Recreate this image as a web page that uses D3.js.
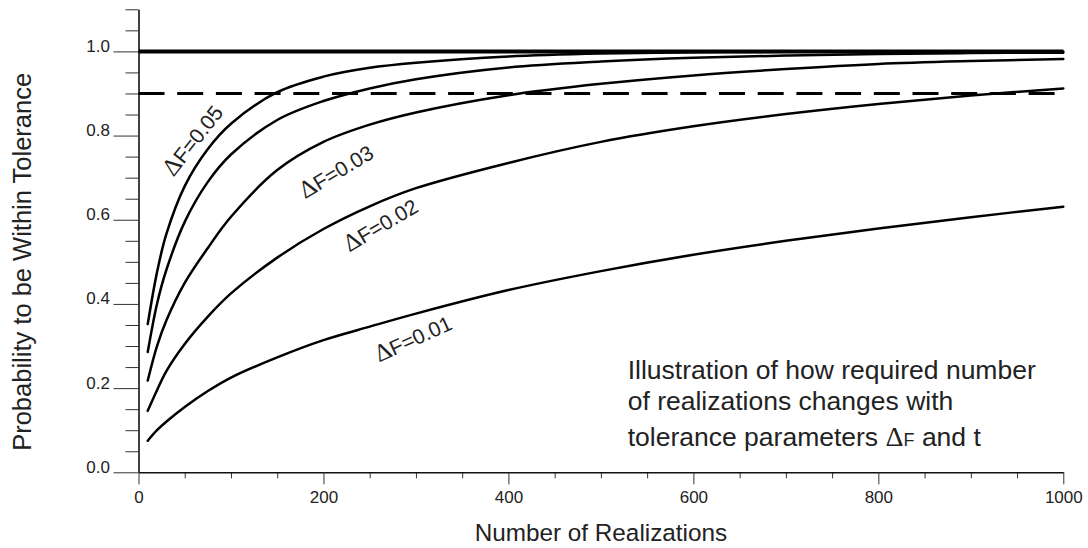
<!DOCTYPE html>
<html>
<head>
<meta charset="utf-8">
<script src="https://cdn.jsdelivr.net/npm/d3@7"></script>
<style>
  body { margin: 0; background: #fff; }
  svg { display: block; font-family: "Liberation Sans", Arial, sans-serif; }
</style>
</head>
<body>
<div id="chart"></div>
<script>
// number of realizations where the curves were read
const realizations = [10, 20, 30, 50, 75, 100, 150, 200, 250, 300, 400, 500, 600, 700, 800, 900, 1000];

// probability to be within tolerance, one array per ΔF
const probDF05 = [0.352, 0.475, 0.565, 0.68, 0.768, 0.828, 0.903, 0.94, 0.961, 0.973, 0.988, 0.995, 0.998, 0.999, 1.0, 1.0, 1.0];
const probDF04 = [0.286, 0.40, 0.48, 0.595, 0.69, 0.755, 0.837, 0.882, 0.912, 0.934, 0.962, 0.976, 0.985, 0.99, 0.994, 0.996, 0.997];
const probDF03 = [0.218, 0.30, 0.36, 0.45, 0.533, 0.607, 0.718, 0.785, 0.826, 0.855, 0.896, 0.923, 0.943, 0.958, 0.97, 0.977, 0.982];
const probDF02 = [0.146, 0.195, 0.24, 0.305, 0.37, 0.425, 0.51, 0.578, 0.632, 0.675, 0.735, 0.785, 0.822, 0.851, 0.875, 0.895, 0.912];
const probDF01 = [0.075, 0.10, 0.12, 0.155, 0.193, 0.225, 0.273, 0.314, 0.346, 0.377, 0.433, 0.478, 0.517, 0.55, 0.579, 0.606, 0.631];

const curveNames = ["0.05", "0.04", "0.03", "0.02", "0.01"];
const labelledCurves = ["0.05", "0.03", "0.02", "0.01"];

// reference levels
const targetLevel = 1.0;
const toleranceLevel = 0.9;

const xMajorTicks = [0, 200, 400, 600, 800, 1000];
const yMajorTicks = [0, 0.2, 0.4, 0.6, 0.8, 1.0];

const noteLines = ["Illustration of how required number", "of realizations changes with"];

const width = 1088;
const height = 548;
const marginLeft = 138.5;
const marginRight = 24.7;
const marginTop = 9.3;
const marginBottom = 75.7;

const svg = d3
  .select("#chart")
  .append("svg")
  .attr("width", width)
  .attr("height", height);

const x = d3
  .scaleLinear()
  .domain([0, 1000])
  .range([marginLeft, width - marginRight]);

const y = d3
  .scaleLinear()
  .domain([0, 1.1])
  .range([height - marginBottom, marginTop]);

const xMinorTicks = d3.range(0, 1001, 50).filter((d) => d % 200 !== 0);
const yMinorTicks = d3
  .range(0, 23)
  .map((i) => +(i * 0.05).toFixed(2))
  .filter((d) => Math.round(d * 100) % 20 !== 0);

// minor ticks
svg
  .append("g")
  .attr("transform", `translate(${marginLeft},0)`)
  .call(d3.axisLeft(y).tickValues(yMinorTicks).tickSize(13).tickFormat(""))
  .call((g) => g.select(".domain").remove());

svg
  .append("g")
  .attr("transform", `translate(0,${height - marginBottom})`)
  .call(d3.axisBottom(x).tickValues(xMinorTicks).tickSize(6).tickFormat(""))
  .call((g) => g.select(".domain").remove());

// major ticks and axis lines
const yAxis = svg
  .append("g")
  .attr("transform", `translate(${marginLeft},0)`)
  .call(
    d3
      .axisLeft(y)
      .tickValues(yMajorTicks)
      .tickSize(25)
      .tickSizeOuter(0)
      .tickPadding(3.5)
      .tickFormat(d3.format(".1f"))
  );

yAxis
  .selectAll("text")
  .attr("dy", 0)
  .attr("font-size", 17)
  .attr("font-family", "Liberation Sans, Arial, sans-serif")
  .attr("fill", "#222");

const xAxis = svg
  .append("g")
  .attr("transform", `translate(0,${height - marginBottom})`)
  .call(
    d3
      .axisBottom(x)
      .tickValues(xMajorTicks)
      .tickSize(12)
      .tickSizeOuter(0)
      .tickFormat(d3.format("d"))
  );

xAxis
  .selectAll("text")
  .attr("dy", 0)
  .attr("y", 31)
  .attr("font-size", 17)
  .attr("font-family", "Liberation Sans, Arial, sans-serif")
  .attr("fill", "#222");

svg.selectAll(".tick line").attr("stroke", "#333").attr("stroke-width", 1);
svg.selectAll(".domain").attr("stroke", "#111").attr("stroke-width", 1.6);

// axis titles
svg
  .append("text")
  .text("Number of Realizations")
  .attr("x", (x(0) + x(1000)) / 2)
  .attr("y", 541)
  .attr("text-anchor", "middle")
  .attr("font-size", 24.3)
  .attr("fill", "#222");

svg
  .append("text")
  .text("Probability to be Within Tolerance")
  .attr("transform", `translate(31, ${(y(0) + y(1)) / 2}) rotate(-90)`)
  .attr("text-anchor", "middle")
  .attr("font-size", 25.5)
  .attr("fill", "#222");

// reference lines
svg
  .append("line")
  .attr("x1", x(0))
  .attr("x2", x(1000))
  .attr("y1", y(targetLevel))
  .attr("y2", y(targetLevel))
  .attr("stroke", "#000")
  .attr("stroke-width", 4);

svg
  .append("line")
  .attr("x1", x(0))
  .attr("x2", x(1000))
  .attr("y1", y(toleranceLevel))
  .attr("y2", y(toleranceLevel))
  .attr("stroke", "#000")
  .attr("stroke-width", 3)
  .attr("stroke-dasharray", "26,12.7");

// curves
const series = [probDF05, probDF04, probDF03, probDF02, probDF01].map((values, i) => ({
  name: curveNames[i],
  points: values.map((v, j) => ({ n: realizations[j], p: v })),
}));

const line = d3
  .line()
  .curve(d3.curveCatmullRom.alpha(0.5))
  .x((d) => x(d.n))
  .y((d) => y(d.p));

svg
  .append("g")
  .selectAll("path")
  .data(series)
  .join("path")
  .attr("fill", "none")
  .attr("stroke", "#000")
  .attr("stroke-width", 2.5)
  .attr("stroke-linecap", "round")
  .attr("d", (d) => line(d.points));

// curve labels (placed in data coordinates)
const labelPlace = {
  "0.05": { n: 59, p: 0.788, angle: -52 },
  "0.03": { n: 214, p: 0.714, angle: -31 },
  "0.02": { n: 262, p: 0.587, angle: -30.5 },
  "0.01": { n: 297, p: 0.317, angle: -24.5 },
};

const labels = svg
  .append("g")
  .selectAll("text")
  .data(labelledCurves)
  .join("text")
  .attr(
    "transform",
    (d) => `translate(${x(labelPlace[d].n)},${y(labelPlace[d].p)}) rotate(${labelPlace[d].angle})`
  )
  .attr("text-anchor", "middle")
  .attr("dy", "0.35em")
  .attr("fill", "#222")
  .attr("font-size", 21);

labels
  .append("tspan")
  .attr("font-family", "Liberation Serif, Times New Roman, serif")
  .attr("font-size", 25)
  .text("Δ");

labels.append("tspan").text((d) => "F=" + d);

// note
const note = svg
  .append("g")
  .attr("transform", `translate(${x(529)},0)`)
  .attr("font-size", 26.5)
  .attr("fill", "#222");

note
  .selectAll("text.line")
  .data(noteLines)
  .join("text")
  .attr("class", "line")
  .attr("y", (d, i) => 379.3 + i * 30.7)
  .text((d) => d);

const lastLine = note.append("text").attr("y", 446);
lastLine.append("tspan").text("tolerance parameters ");
lastLine
  .append("tspan")
  .attr("font-family", "Liberation Serif, Times New Roman, serif")
  .attr("font-size", 28)
  .text("Δ");
lastLine.append("tspan").attr("font-size", 18).text("F");
lastLine.append("tspan").text(" and t");
</script>
</body>
</html>
